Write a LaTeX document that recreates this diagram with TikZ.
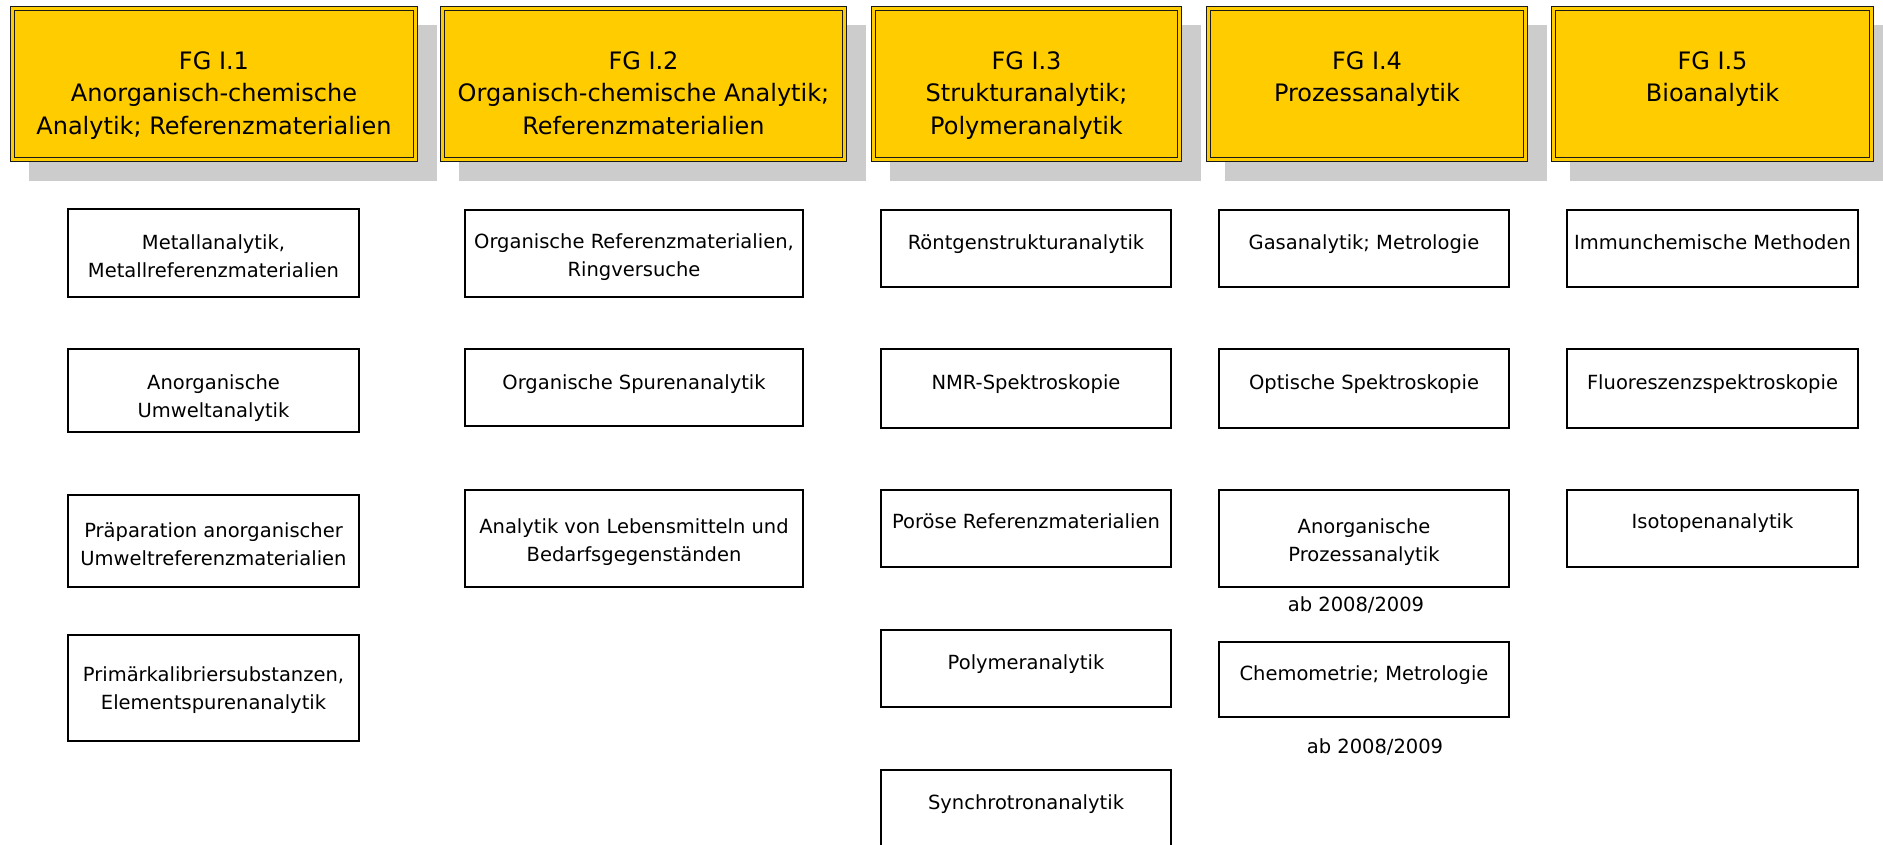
\documentclass[tikz,border=0pt]{standalone}
\usepackage{fontspec}
\setmainfont{DejaVu Sans}
\usetikzlibrary{calc,backgrounds}
\definecolor{fgyellow}{HTML}{FFCC00}
\definecolor{shadowgray}{HTML}{CCCCCC}
\definecolor{edgecol}{HTML}{1A1A1A}
\begin{document}
\begin{tikzpicture}[x=1pt,y=-1pt,
  hdrbox/.style={draw=edgecol, line width=1.3pt, double=fgyellow, double distance=2.6pt,
                 fill=fgyellow, inner sep=0pt, outer sep=0pt, rectangle, minimum height=150.8},
  hdrtxt/.style={font=\fontsize{24}{32.5}\selectfont, align=center, inner sep=0pt, anchor=north},
  subbox/.style={draw=black, line width=1.3pt, fill=white, inner sep=0pt, outer sep=0pt, rectangle},
  subtxt/.style={font=\fontsize{19.5}{28}\selectfont, align=center, inner sep=0pt, anchor=north},
  note/.style={font=\fontsize{19.5}{28}\selectfont, inner sep=0pt, anchor=north}
]
\clip (0,0) rectangle (1883,845);

% ---------- header boxes ----------
\node[hdrbox, minimum width=402.8] (h1) at (214,84) {};
\node[hdrbox, minimum width=401.8] (h2) at (643.5,84) {};
\node[hdrbox, minimum width=305.8] (h3) at (1026.5,84) {};
\node[hdrbox, minimum width=316.8] (h4) at (1367,84) {};
\node[hdrbox, minimum width=317.8] (h5) at (1712.5,84) {};

\begin{scope}[on background layer]
  \fill[white] (0,0) rectangle (1883,845);
  \foreach \h in {h1,h2,h3,h4,h5}{
    \fill[shadowgray] ($(\h.north west)+(16.4,16.4)$) rectangle ($(\h.south east)+(21.6,21.6)$);
  }
\end{scope}

\node[hdrtxt] (ht1) at (214,51) {FG I.1\\Anorganisch-chemische\\Analytik; Referenzmaterialien};
\node[hdrtxt] (ht2) at (643.5,51) {FG I.2\\Organisch-chemische Analytik;\\Referenzmaterialien};
\node[hdrtxt] (ht3) at (1026.5,51) {FG I.3\\Strukturanalytik;\\Polymeranalytik};
\node[hdrtxt] (ht4) at (1367,51) {FG I.4\\Prozessanalytik};
\node[hdrtxt] (ht5) at (1712.5,51) {FG I.5\\Bioanalytik};

% ---------- column 1 ----------
\node[subbox, minimum width=291, minimum height=88]  (b11) at (213.5,253) {};
\node[subbox, minimum width=291, minimum height=83]  (b12) at (213.5,390.5) {};
\node[subbox, minimum width=291, minimum height=92]  (b13) at (213.5,541) {};
\node[subbox, minimum width=291, minimum height=106] (b14) at (213.5,688) {};
\node[subtxt] (t11) at (213.5,234.4) {Metallanalytik,\\Metallreferenzmaterialien};
\node[subtxt] (t12) at (213.5,374.4) {Anorganische\\Umweltanalytik};
\node[subtxt] (t13) at (213.5,522.4) {Präparation anorganischer\\Umweltreferenzmaterialien};
\node[subtxt] (t14) at (213.5,666.4) {Primärkalibriersubstanzen,\\Elementspurenanalytik};

% ---------- column 2 ----------
\node[subbox, minimum width=338, minimum height=87] (b21) at (634,253.5) {};
\node[subbox, minimum width=338, minimum height=77] (b22) at (634,387.5) {};
\node[subbox, minimum width=338, minimum height=97] (b23) at (634,538.5) {};
\node[subtxt] (t21) at (634,233.4) {Organische Referenzmaterialien,\\Ringversuche};
\node[subtxt] (t22) at (634,374.4) {Organische Spurenanalytik};
\node[subtxt] (t23) at (634,518.4) {Analytik von Lebensmitteln und\\Bedarfsgegenständen};

% ---------- column 3 ----------
\node[subbox, minimum width=290, minimum height=77] (b31) at (1026,248.5) {};
\node[subbox, minimum width=290, minimum height=79] (b32) at (1026,388.5) {};
\node[subbox, minimum width=290, minimum height=77] (b33) at (1026,528.5) {};
\node[subbox, minimum width=290, minimum height=77] (b34) at (1026,668.5) {};
\node[subbox, minimum width=290, minimum height=80] (b35) at (1026,810) {};
\node[subtxt] (t31) at (1026,234.4) {Röntgenstrukturanalytik};
\node[subtxt] (t32) at (1026,374.4) {NMR-Spektroskopie};
\node[subtxt] (t33) at (1026,513.4) {Poröse Referenzmaterialien};
\node[subtxt] (t34) at (1026,654.4) {Polymeranalytik};
\node[subtxt] (t35) at (1026,794.4) {Synchrotronanalytik};

% ---------- column 4 ----------
\node[subbox, minimum width=290, minimum height=77] (b41) at (1364,248.5) {};
\node[subbox, minimum width=290, minimum height=79] (b42) at (1364,388.5) {};
\node[subbox, minimum width=290, minimum height=97] (b43) at (1364,538.5) {};
\node[subbox, minimum width=290, minimum height=75] (b44) at (1364,679.5) {};
\node[subtxt] (t41) at (1364,234.4) {Gasanalytik; Metrologie};
\node[subtxt] (t42) at (1364,374.4) {Optische Spektroskopie};
\node[subtxt] (t43) at (1364,518.4) {Anorganische\\Prozessanalytik};
\node[subtxt] (t44) at (1364,665.4) {Chemometrie; Metrologie};
\node[note] (n1) at (1356,596.4) {ab 2008/2009};
\node[note] (n2) at (1375,738.4) {ab 2008/2009};

% ---------- column 5 ----------
\node[subbox, minimum width=291, minimum height=77] (b51) at (1712.5,248.5) {};
\node[subbox, minimum width=291, minimum height=79] (b52) at (1712.5,388.5) {};
\node[subbox, minimum width=291, minimum height=77] (b53) at (1712.5,528.5) {};
\node[subtxt] (t51) at (1712.5,234.4) {Immunchemische Methoden};
\node[subtxt] (t52) at (1712.5,374.4) {Fluoreszenzspektroskopie};
\node[subtxt] (t53) at (1712.5,513.4) {Isotopenanalytik};
\end{tikzpicture}
\end{document}
